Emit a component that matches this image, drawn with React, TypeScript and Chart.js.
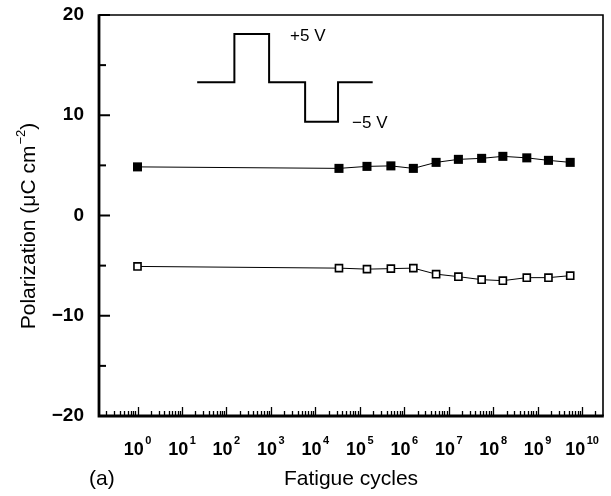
import React, { useEffect, useRef } from 'react';
import { Chart, registerables } from 'chart.js';

Chart.register(...registerables);

// ---- data ----
const cycles = [1, 3.4e4, 1.45e5, 5e5, 1.6e6, 5.2e6, 1.65e7, 5.5e7, 1.65e8, 5.7e8, 1.75e9, 5.4e9];
const positivePolarization = [4.85, 4.7, 4.9, 4.95, 4.7, 5.3, 5.6, 5.7, 5.9, 5.75, 5.5, 5.3];
const negativePolarization = [-5.08, -5.25, -5.35, -5.3, -5.25, -5.85, -6.1, -6.4, -6.5, -6.2, -6.2, -6.0];
const pulseX = [22, 151, 912, 5890, 32400, 195000];
const pulseY = [13.3, 18.1, 13.3, 9.35, 13.3, 13.3];
const xDecades = [0, 1, 2, 3, 4, 5, 6, 7, 8, 9, 10];
const yTickValues = [-20, -15, -10, -5, 0, 5, 10, 15, 20];
const yLabelValues = [-20, -10, 0, 10, 20];
const xTitle = 'Fatigue cycles';
const yTitleMain = 'Polarization (\u03bcC cm';
const yTitleSup = '\u22122';
const yTitleEnd = ')';
const panelLabel = '(a)';
const plusLabel = '+5 V';
const minusLabel = '\u22125 V';

const FONT = '"Liberation Sans", Arial, sans-serif';

const X_MIN = Math.pow(10, -0.866);
const X_MAX = Math.pow(10, 10.47);

const decorPlugin = {
  id: 'decor',
  afterDraw(chart: any) {
    const ctx = chart.ctx as CanvasRenderingContext2D;
    const { left, right, top, bottom } = chart.chartArea;
    const xs = chart.scales.x;
    const ys = chart.scales.y;
    ctx.save();
    ctx.strokeStyle = '#000';
    ctx.fillStyle = '#000';

    // frame
    ctx.lineWidth = 1.6;
    ctx.beginPath();
    ctx.moveTo(left, top);
    ctx.lineTo(right, top);
    ctx.lineTo(right, bottom);
    ctx.stroke();
    ctx.lineWidth = 2.8;
    ctx.beginPath();
    ctx.moveTo(left, top - 0.8);
    ctx.lineTo(left, bottom);
    ctx.lineTo(right + 0.8, bottom);
    ctx.stroke();

    // x ticks (inward)
    ctx.lineWidth = 1.3;
    for (let k = -1; k <= 10; k++) {
      for (let m = 1; m <= 9; m++) {
        const v = m * Math.pow(10, k);
        if (v < X_MIN || v > X_MAX) continue;
        const px = Math.round(xs.getPixelForValue(v)) + 0.5;
        const len = m === 1 ? 9 : 5;
        ctx.beginPath();
        ctx.moveTo(px, bottom);
        ctx.lineTo(px, bottom - len);
        ctx.stroke();
      }
    }

    // y ticks (inward)
    ctx.lineWidth = 2;
    for (const v of yTickValues) {
      const py = ys.getPixelForValue(v);
      const len = v % 10 === 0 ? 11 : 7;
      ctx.beginPath();
      ctx.moveTo(left, py);
      ctx.lineTo(left + len, py);
      ctx.stroke();
    }

    // x tick labels 10^n
    ctx.textBaseline = 'alphabetic';
    ctx.textAlign = 'left';
    for (const d of xDecades) {
      const px = xs.getPixelForValue(Math.pow(10, d));
      ctx.font = `bold 18px ${FONT}`;
      const wBase = ctx.measureText('10').width;
      ctx.font = `bold 11px ${FONT}`;
      const wExp = ctx.measureText(String(d)).width;
      const x0 = px - (wBase + 1.5 + wExp) / 2;
      ctx.font = `bold 18px ${FONT}`;
      ctx.fillText('10', x0, 455);
      ctx.font = `bold 11px ${FONT}`;
      ctx.fillText(String(d), x0 + wBase + 1.5, 444);
    }

    // x title and panel label
    ctx.font = `21px ${FONT}`;
    ctx.textAlign = 'center';
    ctx.fillText(xTitle, (left + right) / 2, 485);
    ctx.textAlign = 'left';
    ctx.fillText(panelLabel, 89, 485);

    // y title (rotated)
    ctx.save();
    ctx.translate(35, 226);
    ctx.rotate(-Math.PI / 2);
    ctx.font = `21px ${FONT}`;
    const w1 = ctx.measureText(yTitleMain).width;
    ctx.font = `13px ${FONT}`;
    const w2 = ctx.measureText(yTitleSup).width;
    ctx.font = `21px ${FONT}`;
    const w3 = ctx.measureText(yTitleEnd).width;
    const total = w1 + w2 + w3 + 1;
    let cx = -total / 2;
    ctx.fillText(yTitleMain, cx, 0);
    cx += w1 + 1;
    ctx.font = `13px ${FONT}`;
    ctx.fillText(yTitleSup, cx, -10);
    cx += w2;
    ctx.font = `21px ${FONT}`;
    ctx.fillText(yTitleEnd, cx, 0);
    ctx.restore();

    // pulse annotations
    ctx.font = `17px ${FONT}`;
    ctx.textAlign = 'left';
    ctx.textBaseline = 'middle';
    ctx.fillText(plusLabel, xs.getPixelForValue(2700), ys.getPixelForValue(17.9));
    ctx.fillText(minusLabel, xs.getPixelForValue(67000), ys.getPixelForValue(9.2));

    ctx.restore();
  },
};

export default function App() {
  const canvasRef = useRef<HTMLCanvasElement | null>(null);

  useEffect(() => {
    document.body.style.margin = '0';
    const canvas = canvasRef.current;
    if (!canvas) return;
    const chart = new Chart(canvas, {
      type: 'line',
      data: {
        datasets: [
          {
            label: 'P+',
            data: cycles.map((c, i) => ({ x: c, y: positivePolarization[i] })),
            borderColor: '#000',
            borderWidth: 1,
            backgroundColor: '#000',
            pointStyle: 'rect',
            pointRadius: 6.4,
            pointBorderWidth: 0,
            pointBackgroundColor: '#000',
            tension: 0,
          },
          {
            label: 'P-',
            data: cycles.map((c, i) => ({ x: c, y: negativePolarization[i] })),
            borderColor: '#000',
            borderWidth: 1,
            backgroundColor: '#fff',
            pointStyle: 'rect',
            pointRadius: 5,
            pointBorderWidth: 1.6,
            pointBorderColor: '#000',
            pointBackgroundColor: '#fff',
            tension: 0,
          },
          {
            label: 'pulse',
            data: pulseX.map((x, i) => ({ x, y: pulseY[i] })),
            borderColor: '#000',
            borderWidth: 2,
            pointRadius: 0,
            stepped: 'before',
            fill: false,
          },
        ],
      },
      options: {
        animation: false,
        responsive: true,
        maintainAspectRatio: false,
        layout: { padding: { top: 15, right: 8, left: 0, bottom: 0 } },
        plugins: { legend: { display: false }, tooltip: { enabled: false }, title: { display: false } },
        scales: {
          x: {
            type: 'logarithmic',
            min: X_MIN,
            max: X_MAX,
            grid: { display: false },
            border: { display: false },
            ticks: { display: false },
            afterFit: (s: any) => {
              s.height = 80;
              s.paddingLeft = 0;
              s.paddingRight = 0;
            },
          },
          y: {
            type: 'linear',
            min: -20,
            max: 20,
            grid: { display: false, drawTicks: false },
            border: { display: false },
            afterBuildTicks: (s: any) => { s.ticks = yLabelValues.map((v) => ({ value: v })); },
            ticks: {
              padding: 15,
              color: '#000',
              font: { family: FONT, size: 19, weight: 'bold' },
              callback: (v: any) => (Number(v) < 0 ? '\u2212' + Math.abs(Number(v)) : String(v)),
            },
            afterFit: (s: any) => {
              s.width = 99;
              s.paddingTop = 0;
              s.paddingBottom = 0;
            },
          },
        },
      },
      plugins: [decorPlugin],
    } as any);
    return () => chart.destroy();
  }, []);

  return (
    <div style={{ width: 611, height: 496, position: 'relative', background: '#fff' }}>
      <canvas ref={canvasRef} />
    </div>
  );
}
